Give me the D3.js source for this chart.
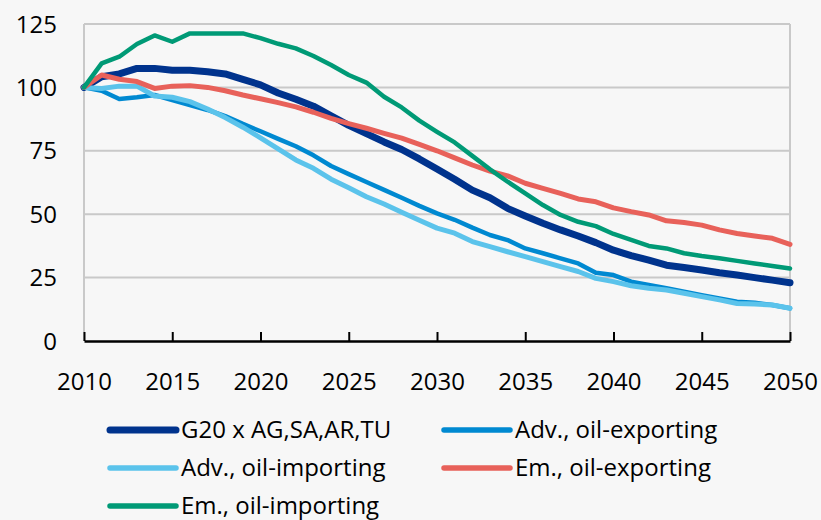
<!DOCTYPE html>
<html>
<head>
<meta charset="utf-8">
<script src="https://cdn.jsdelivr.net/npm/d3@7"></script>
<style>
  html, body { margin: 0; padding: 0; background: #f7f7f7; }
  svg { display: block; font-family: "Open Sans", sans-serif; }
</style>
</head>
<body>
<div id="chart"></div>
<script>
const years = d3.range(2010, 2051);
const xTicks = [2010, 2015, 2020, 2025, 2030, 2035, 2040, 2045, 2050];
const yTicks = [0, 25, 50, 75, 100, 125];

const seriesNames = [
  "G20 x AG,SA,AR,TU",
  "Adv., oil-exporting",
  "Adv., oil-importing",
  "Em., oil-exporting",
  "Em., oil-importing"
];

const g20 = [
  100, 104.2, 105.3, 107.5, 107.5, 106.8, 106.8, 106.2, 105.3, 103.2, 101.0,
  97.8, 95.3, 92.6, 88.8, 85.0, 81.8, 78.5, 75.5, 71.8, 67.8,
  63.8, 59.5, 56.5, 52.3, 49.3, 46.4, 43.8, 41.4, 38.8, 35.8,
  33.7, 31.9, 29.9, 29.0, 28.0, 26.9, 26.0, 25.0, 24.0, 23.0
];
const advExp = [
  100, 98.7, 95.4, 96.1, 97.0, 95.0, 93.0, 91.1, 88.7, 85.6, 82.7,
  79.7, 76.8, 73.2, 69.0, 65.8, 62.7, 59.6, 56.5, 53.3, 50.3,
  47.8, 44.7, 41.8, 39.8, 36.5, 34.6, 32.6, 30.6, 26.9, 26.0,
  23.4, 22.1, 20.8, 19.4, 18.1, 16.8, 15.5, 15.1, 14.2, 12.9
];
const advImp = [
  100, 99.6, 100.5, 100.5, 96.6, 96.1, 94.4, 91.5, 88.1, 84.3, 80.1,
  75.8, 71.4, 68.1, 63.8, 60.4, 56.9, 54.0, 50.8, 47.6, 44.5,
  42.5, 39.2, 37.2, 35.2, 33.3, 31.3, 29.3, 27.4, 24.7, 23.4,
  21.8, 20.8, 20.1, 18.8, 17.5, 16.2, 14.8, 14.6, 14.2, 12.9
];
const emExp = [
  100, 104.9, 103.2, 102.3, 99.6, 100.5, 100.7, 100.0, 98.7, 97.0, 95.5,
  94.0, 92.3, 90.2, 87.8, 85.7, 83.9, 81.9, 80.0, 77.5, 75.0,
  72.2, 69.4, 67.0, 65.1, 62.2, 60.2, 58.2, 56.0, 54.9, 52.5,
  51.0, 49.7, 47.4, 46.7, 45.7, 43.8, 42.4, 41.4, 40.5, 38.1
];
const emImp = [
  100, 109.5, 112.1, 117.1, 120.5, 118.0, 121.3, 121.3, 121.3, 121.3, 119.4,
  117.2, 115.4, 112.4, 108.8, 104.9, 101.9, 96.3, 92.1, 86.9, 82.5,
  78.3, 73.0, 67.7, 62.8, 58.2, 53.6, 49.7, 47.0, 45.3, 42.2,
  39.9, 37.5, 36.5, 34.6, 33.5, 32.6, 31.6, 30.6, 29.6, 28.6
];

const colors = ["#00338d", "#0089d1", "#5bc3eb", "#e8615a", "#009a76"];
const widths = [7, 4.5, 5, 5, 4.5];
const values = [g20, advExp, advImp, emExp, emImp];

const width = 821, height = 520;
const margin = { top: 24, right: 31, bottom: 179, left: 84 };

const svg = d3.select("#chart").append("svg")
  .attr("width", width)
  .attr("height", height);

svg.append("rect").attr("width", width).attr("height", height).attr("fill", "#f7f7f7");

const x = d3.scaleLinear().domain([2010, 2050]).range([margin.left, width - margin.right]);
const y = d3.scaleLinear().domain([0, 125]).range([height - margin.bottom, margin.top]);

// gridlines and plot border
svg.append("g")
  .selectAll("line")
  .data(yTicks.filter(d => d > 0))
  .join("line")
  .attr("x1", x(2010))
  .attr("x2", x(2050))
  .attr("y1", d => y(d))
  .attr("y2", d => y(d))
  .attr("stroke", "#c9c9c9")
  .attr("stroke-width", 2);

svg.append("g")
  .selectAll("line")
  .data([2010, 2050])
  .join("line")
  .attr("x1", d => x(d))
  .attr("x2", d => x(d))
  .attr("y1", y(125))
  .attr("y2", y(0))
  .attr("stroke", "#c9c9c9")
  .attr("stroke-width", 2);

// y labels
svg.append("g")
  .selectAll("text")
  .data(yTicks)
  .join("text")
  .attr("x", 57)
  .attr("y", d => y(d))
  .attr("dy", "0.36em")
  .attr("text-anchor", "end")
  .attr("font-size", "24px")
  .attr("fill", "#000")
  .text(d => d);

// x axis with inside ticks
const xAxis = svg.append("g")
  .attr("transform", `translate(0,${y(0)})`)
  .call(d3.axisBottom(x).tickValues(xTicks).tickFormat(d3.format("d")).tickSizeInner(-9).tickSizeOuter(0).tickPadding(32));
xAxis.select(".domain").attr("stroke", "#000").attr("stroke-width", 2.5);
xAxis.selectAll(".tick line").attr("stroke", "#000").attr("stroke-width", 2);
xAxis.selectAll(".tick text")
  .attr("font-size", "24px")
  .attr("font-family", "Open Sans, sans-serif")
  .attr("fill", "#000");

// series
const line = d3.line()
  .x((d, i) => x(years[i]))
  .y(d => y(d));

svg.append("g")
  .attr("fill", "none")
  .selectAll("path")
  .data(values)
  .join("path")
  .attr("d", d => line(d))
  .attr("stroke", (d, i) => colors[i])
  .attr("stroke-width", (d, i) => widths[i])
  .attr("stroke-linejoin", "round")
  .attr("stroke-linecap", "round");

// legend
const legendPos = [
  [110, 430], [444, 430],
  [110, 468], [444, 468],
  [110, 506]
];

const legend = svg.append("g")
  .selectAll("g")
  .data(seriesNames)
  .join("g")
  .attr("transform", (d, i) => `translate(${legendPos[i][0]},${legendPos[i][1]})`);

legend.append("line")
  .attr("x1", 0)
  .attr("x2", 66)
  .attr("stroke", (d, i) => colors[i])
  .attr("stroke-width", (d, i) => i === 0 ? 7 : 5.5)
  .attr("stroke-linecap", "round");

legend.append("text")
  .attr("x", 71)
  .attr("dy", "0.35em")
  .attr("font-size", "24px")
  .attr("fill", "#000")
  .text(d => d);
</script>
</body>
</html>
